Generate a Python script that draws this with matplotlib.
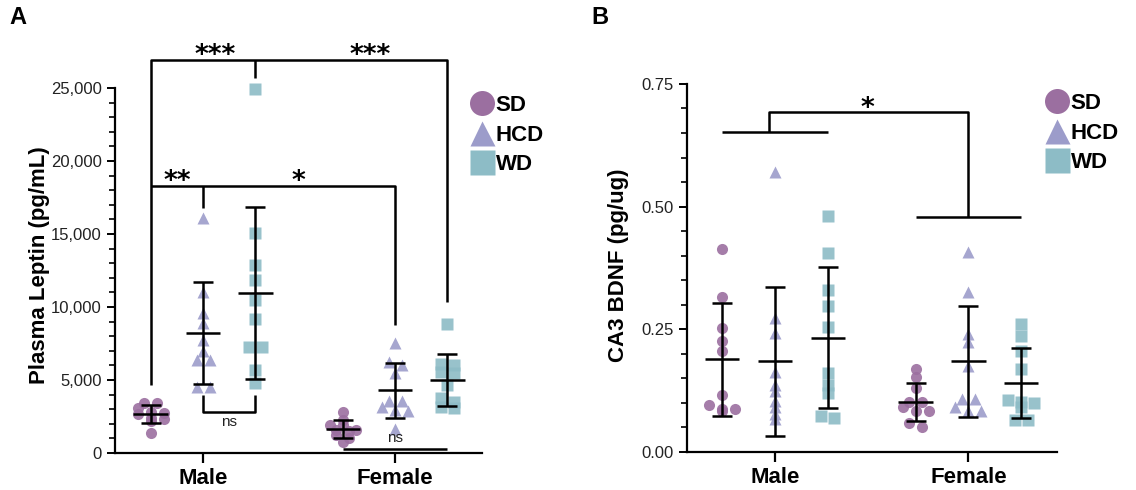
import numpy as np
import matplotlib
matplotlib.use("Agg")
import matplotlib.pyplot as plt
from matplotlib.lines import Line2D
from matplotlib.ticker import FixedLocator, FuncFormatter

plt.rcParams['font.family'] = ['Liberation Sans', 'DejaVu Sans']

# groups
sexes = ['Male', 'Female']
diets = ['SD', 'HCD', 'WD']
colors = ['#9b6fa0', '#9c9cca', '#8dbcc6']
markers = ['o', '^', 's']

# panel A: plasma leptin (pg/mL)
lep_male_sd = [3450, 3400, 3050, 2800, 2750, 2650, 2400, 2350, 2200, 1350]
lep_male_hcd = [16070, 11050, 9610, 8920, 7740, 7000, 6370, 6370, 4500, 4500]
lep_male_wd = [24930, 15050, 12880, 11850, 10480, 9160, 7280, 7280, 5680, 4770]
lep_fem_sd = [2830, 2260, 1900, 1900, 1600, 1550, 1500, 1200, 1000, 770]
lep_fem_hcd = [7560, 6200, 6000, 5460, 3560, 3560, 3130, 2950, 2880, 1640]
lep_fem_wd = [8840, 6070, 6000, 5570, 5460, 4660, 3750, 3520, 3170, 3060]

# panel B: CA3 BDNF (pg/ug)
bdnf_male_sd = [0.413, 0.316, 0.252, 0.226, 0.205, 0.116, 0.095, 0.088, 0.088, 0.082]
bdnf_male_hcd = [0.571, 0.273, 0.243, 0.163, 0.136, 0.124, 0.104, 0.091, 0.077, 0.066]
bdnf_male_wd = [0.481, 0.405, 0.330, 0.298, 0.254, 0.160, 0.136, 0.119, 0.073, 0.068]
bdnf_fem_sd = [0.168, 0.152, 0.129, 0.102, 0.102, 0.091, 0.082, 0.082, 0.058, 0.050]
bdnf_fem_hcd = [0.408, 0.326, 0.241, 0.224, 0.175, 0.107, 0.107, 0.092, 0.082, 0.082]
bdnf_fem_wd = [0.260, 0.235, 0.205, 0.168, 0.105, 0.102, 0.099, 0.092, 0.065, 0.065]

leptin = [[lep_male_sd, lep_male_hcd, lep_male_wd],
          [lep_fem_sd, lep_fem_hcd, lep_fem_wd]]
bdnf = [[bdnf_male_sd, bdnf_male_hcd, bdnf_male_wd],
        [bdnf_fem_sd, bdnf_fem_hcd, bdnf_fem_wd]]

W, H = 1136, 490
fig = plt.figure(figsize=(W / 100, H / 100), dpi=100)


def add_axes_px(left, right, y0, ytop):
    return fig.add_axes([left / W, (H - y0) / H, (right - left) / W, (y0 - ytop) / H])


OFF = 0.273
LW = 1.8


def swarm(vals, ax, tol=5, step=13):
    # spread points with nearly equal values side by side
    p = ax.transData.transform(np.column_stack([np.ones(len(vals)), vals]))
    ypx = p[:, 1]
    xpx = ax.transData.transform([[1, 0], [2, 0]])
    px_per_x = xpx[1, 0] - xpx[0, 0]
    order = np.argsort(-vals)
    clusters = []
    for idx in order:
        if clusters and ypx[clusters[-1][0]] - ypx[idx] < tol:
            clusters[-1].append(idx)
        else:
            clusters.append([idx])
    offs = np.zeros(len(vals))
    for cl in clusters:
        n = len(cl)
        for k, idx in enumerate(cl):
            offs[idx] = (k - (n - 1) / 2) * step / px_per_x
    return offs


def draw_groups(ax, data):
    for i, sex in enumerate(sexes):
        for j, diet in enumerate(diets):
            vals = np.array(data[i][j], dtype=float)
            x = i + 1 + (j - 1) * OFF
            dx = swarm(vals, ax)
            ax.plot(x + dx, vals, ls='none', marker=markers[j], ms=8,
                    color=colors[j], mec='none', alpha=0.9, zorder=2)
            m = vals.mean()
            s = vals.std(ddof=1)
            kw = dict(color='black', lw=LW, zorder=3, solid_capstyle='butt')
            ax.plot([x - 0.089, x + 0.089], [m, m], **kw)
            ax.plot([x, x], [m - s, m + s], **kw)
            ax.plot([x - 0.052, x + 0.052], [m + s, m + s], **kw)
            ax.plot([x - 0.052, x + 0.052], [m - s, m - s], **kw)


def style_axes(ax, top, major, minor):
    for sp in ['top', 'right']:
        ax.spines[sp].set_visible(False)
    ax.spines['left'].set_linewidth(1.6)
    ax.spines['bottom'].set_linewidth(1.6)
    ax.spines['left'].set_bounds(0, top)
    ax.yaxis.set_major_locator(FixedLocator(np.linspace(0, top, int(round(top / major)) + 1)))
    ax.yaxis.set_minor_locator(FixedLocator(np.linspace(0, top, int(round(top / minor)) + 1)))
    ax.set_xticks([1, 2])
    ax.set_xticklabels(sexes, fontsize=16, fontweight='bold')
    ax.tick_params(axis='x', length=7, width=1.6, pad=4)
    ax.tick_params(axis='y', which='major', length=6, width=1.4, labelsize=12,
                   labelcolor='#222222')
    ax.tick_params(axis='y', which='minor', length=4, width=1.2)


def add_legend(ax, x, y):
    handles = [Line2D([], [], ls='none', marker=markers[j], ms=18, color=colors[j],
                      mec='none') for j in range(3)]
    ax.legend(handles, diets, loc='upper left', bbox_to_anchor=(x / W, 1 - y / H),
              bbox_transform=fig.transFigure, frameon=False, borderpad=0,
              handlelength=1.0, handletextpad=0.1, labelspacing=0.38,
              prop=dict(size=16, weight='bold'))


star_kw = dict(family=['DejaVu Sans'], fontweight='bold', fontsize=19,
               ha='center', va='baseline')
br_kw = dict(color='black', lw=LW, solid_capstyle='butt', clip_on=False)

# ---- panel A ----
axA = add_axes_px(115, 482, 453, 453 - 28500 * 0.0146)
axA.set_xlim(0.5417, 2.453)
axA.set_ylim(0, 28500)
style_axes(axA, 25000, 5000, 1000)
axA.yaxis.set_major_formatter(FuncFormatter(lambda v, p: '{:,.0f}'.format(v)))
draw_groups(axA, leptin)
axA.set_ylabel('Plasma Leptin (pg/mL)', fontsize=16, fontweight='bold')
axA.yaxis.set_label_coords(-0.177, 0.452)

msd, mhcd, mwd = 1 - OFF, 1, 1 + OFF
fsd, fhcd, fwd = 2 - OFF, 2, 2 + OFF
axA.plot([msd, msd, fwd, fwd], [4660, 26900, 26900, 10340], **br_kw)
axA.plot([mwd, mwd], [26900, 25700], **br_kw)
axA.plot([msd, fhcd, fhcd], [18300, 18300, 8770], **br_kw)
axA.plot([mhcd, mhcd], [18300, 16800], **br_kw)
axA.text(1.0625, 26700, '***', **star_kw)
axA.text(1.87, 26700, '***', **star_kw)
axA.text(0.865, 18100, '**', **star_kw)
axA.text(1.495, 18100, '*', **star_kw)
axA.plot([mhcd, mhcd, mwd, mwd], [3970, 2830, 2830, 3970], **br_kw)
axA.text(1.135, 2140, 'ns', fontsize=11, ha='center', va='center', color='#222222')
axA.plot([fsd, fwd], [250, 250], **br_kw)
axA.text(2.0, 1000, 'ns', fontsize=11, ha='center', va='center', color='#222222')
add_legend(axA, 460, 84)

# ---- panel B ----
axB = add_axes_px(686.7, 1056.7, 451.7, 451.7 - 0.78 * 490.3)
axB.set_xlim(0.543, 2.457)
axB.set_ylim(0, 0.78)
style_axes(axB, 0.75, 0.25, 0.05)
axB.yaxis.set_major_formatter(FuncFormatter(lambda v, p: '{:.2f}'.format(v)))
draw_groups(axB, bdnf)
axB.set_ylabel('CA3 BDNF (pg/ug)', fontsize=16, fontweight='bold')
axB.yaxis.set_label_coords(-0.156, 0.488)

axB.plot([msd, mwd], [0.653, 0.653], **br_kw)
axB.plot([0.97, 0.97, fhcd, fhcd], [0.653, 0.693, 0.693, 0.479], **br_kw)
axB.plot([fsd, fwd], [0.479, 0.479], **br_kw)
axB.text(1.48, 0.685, '*', **star_kw)
add_legend(axB, 1035, 82)

fig.text(18 / W, 1 - 18 / H, 'A', fontsize=17, fontweight='bold', ha='center', va='center')
fig.text(600 / W, 1 - 18 / H, 'B', fontsize=17, fontweight='bold', ha='center', va='center')

fig.savefig('out.png', dpi=100)
